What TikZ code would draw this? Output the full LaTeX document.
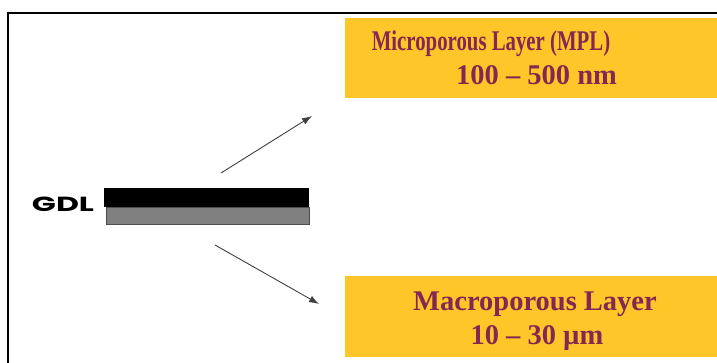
\documentclass[tikz,border=0pt]{standalone}
\usepackage{fontspec}
\setmainfont{Liberation Serif}
\newfontfamily\gdlfont{Poppins}
\usetikzlibrary{arrows.meta}
\definecolor{boxgold}{RGB}{255,198,41}
\definecolor{maroon}{RGB}{134,38,82}
\definecolor{bargray}{RGB}{128,128,128}
\tikzset{
  layerbox/.style={fill=boxgold, draw=none, inner sep=0pt},
  layertext/.style={text=maroon, font=\fontsize{28.5}{34}\selectfont\bfseries, anchor=base, inner sep=0pt},
  arr/.style={draw=black!75, line width=0.9pt, -{Latex[length=10pt,width=7pt]}}
}
\begin{document}
\begin{tikzpicture}[x=1pt,y=1pt]
\useasboundingbox (0,0) rectangle (717,362);
\clip (0,0) rectangle (717,362);
% frame
\draw[line width=2pt] (8,-10) -- (8,349) -- (730,349);
% boxes
\node[layerbox, minimum width=380pt, minimum height=80pt] (mplbox) at (535,304) {};
\node[layerbox, minimum width=380pt, minimum height=81pt] (macbox) at (535,45.5) {};
% texts
\node[layertext] (mpl1) at (491,311.3) {\scalebox{0.73}[1]{Microporous Layer (MPL)}};
\node[layertext] (mpl2) at (536.5,277) {100 – 500 nm};
\node[layertext] (mac1) at (535,51.3) {Macroporous Layer};
\node[layertext] (mac2) at (537,18) {10 – 30 µm};
% GDL
\node[anchor=base, inner sep=0pt] (gdl) at (63,151) {\resizebox{62pt}{14.5pt}{\gdlfont\bfseries GDL}};
\node[fill=black, draw=none, minimum width=205pt, minimum height=19pt, inner sep=0pt] (mplbar) at (206.5,164.5) {};
\node[fill=bargray, draw=black!70, line width=0.6pt, minimum width=203pt, minimum height=17pt, inner sep=0pt] (macbar) at (207.5,146.5) {};
% arrows
\coordinate (upstart) at (221,189);
\coordinate (upend) at (312,246);
\coordinate (dnstart) at (215,117);
\coordinate (dnend) at (319,58);
\draw[arr] (upstart) -- (upend);
\draw[arr] (dnstart) -- (dnend);
\end{tikzpicture}
\end{document}
